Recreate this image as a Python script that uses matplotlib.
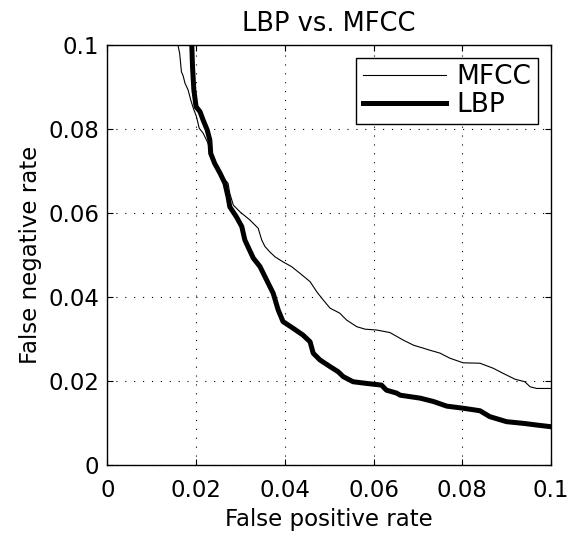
import matplotlib
matplotlib.use('Agg')
import matplotlib.pyplot as plt
from matplotlib.ticker import FuncFormatter

plt.rcParams['font.family'] = ['DejaVu Sans']

# curves
mfcc_fpr = [0.0157, 0.0163, 0.0167, 0.0171, 0.0175, 0.0182, 0.0188, 0.0194, 0.0201, 0.0207,
            0.0216, 0.0227, 0.0235, 0.0246, 0.0258, 0.0272, 0.0276, 0.0284, 0.0299, 0.0321,
            0.0340, 0.0348, 0.0355, 0.0366, 0.0378, 0.0396, 0.0415, 0.0434, 0.0457, 0.0472,
            0.0487, 0.0502, 0.0524, 0.0539, 0.0562, 0.0581, 0.0607, 0.0637, 0.0667, 0.0690,
            0.0727, 0.0750, 0.0772, 0.0802, 0.0840, 0.0870, 0.0892, 0.0919, 0.0941, 0.0953,
            0.0968, 0.1000]
mfcc_fnr = [0.1010, 0.0979, 0.0935, 0.0925, 0.0908, 0.0892, 0.0868, 0.0848, 0.0828, 0.0801,
            0.0789, 0.0765, 0.0733, 0.0709, 0.0686, 0.0670, 0.0646, 0.0618, 0.0602, 0.0583,
            0.0563, 0.0535, 0.0520, 0.0507, 0.0495, 0.0483, 0.0472, 0.0456, 0.0436, 0.0412,
            0.0392, 0.0373, 0.0361, 0.0345, 0.0329, 0.0323, 0.0321, 0.0315, 0.0297, 0.0285,
            0.0273, 0.0266, 0.0254, 0.0243, 0.0242, 0.0230, 0.0218, 0.0204, 0.0198, 0.0186,
            0.0182, 0.0182]

lbp_fpr = [0.0190, 0.0192, 0.0195, 0.0200, 0.0209, 0.0216, 0.0225, 0.0231, 0.0233, 0.0242,
           0.0254, 0.0265, 0.0272, 0.0276, 0.0291, 0.0303, 0.0310, 0.0321, 0.0329, 0.0344,
           0.0359, 0.0374, 0.0385, 0.0396, 0.0419, 0.0441, 0.0457, 0.0464, 0.0479, 0.0502,
           0.0520, 0.0532, 0.0554, 0.0584, 0.0618, 0.0629, 0.0652, 0.0660, 0.0705, 0.0735,
           0.0765, 0.0802, 0.0840, 0.0862, 0.0900, 0.0938, 0.0968, 0.1000]
lbp_fnr = [0.1010, 0.0947, 0.0892, 0.0852, 0.0840, 0.0820, 0.0797, 0.0773, 0.0741, 0.0717,
           0.0694, 0.0670, 0.0638, 0.0614, 0.0590, 0.0567, 0.0535, 0.0510, 0.0492, 0.0472,
           0.0440, 0.0408, 0.0369, 0.0341, 0.0325, 0.0309, 0.0293, 0.0266, 0.0250, 0.0234,
           0.0222, 0.0210, 0.0198, 0.0194, 0.0190, 0.0178, 0.0171, 0.0166, 0.0159, 0.0151,
           0.0140, 0.0135, 0.0129, 0.0115, 0.0103, 0.0099, 0.0095, 0.0091]

ticks = [0, 0.02, 0.04, 0.06, 0.08, 0.1]

fig = plt.figure(figsize=(5.68, 5.33), dpi=100)
ax = fig.add_axes([0.189, 0.1276, 0.781, 0.7889])

ax.plot(mfcc_fpr, mfcc_fnr, color='black', lw=0.8, label='MFCC')
ax.plot(lbp_fpr, lbp_fnr, color='black', lw=3.6, label='LBP')

ax.set_xlim(0, 0.1)
ax.set_ylim(0, 0.1)
ax.set_xticks(ticks)
ax.set_yticks(ticks)
fmt = FuncFormatter(lambda v, p: '%g' % round(v, 4))
ax.xaxis.set_major_formatter(fmt)
ax.yaxis.set_major_formatter(fmt)
ax.tick_params(direction='in', top=True, right=True, labelsize=16.5, length=4, width=0.8)
ax.tick_params(axis='x', pad=10)
ax.tick_params(axis='y', pad=6)
ax.grid(True, color='black', linestyle=(0, (1, 7)), lw=0.8)
for s in ax.spines.values():
    s.set_linewidth(1.0)

ax.set_xlabel('False positive rate', fontsize=16.5, labelpad=4.3)
ax.set_ylabel('False negative rate', fontsize=16.5, labelpad=4)
ax.set_title('LBP vs. MFCC', fontsize=18.5, pad=9.5)

leg = ax.legend(loc='upper right', fontsize=19, handlelength=3.15, fancybox=False,
                framealpha=1, edgecolor='black', borderaxespad=0.5, labelspacing=0.06,
                handletextpad=0.4, borderpad=0.25)
leg.get_frame().set_linewidth(1.0)

fig.savefig('out.png', dpi=100)
